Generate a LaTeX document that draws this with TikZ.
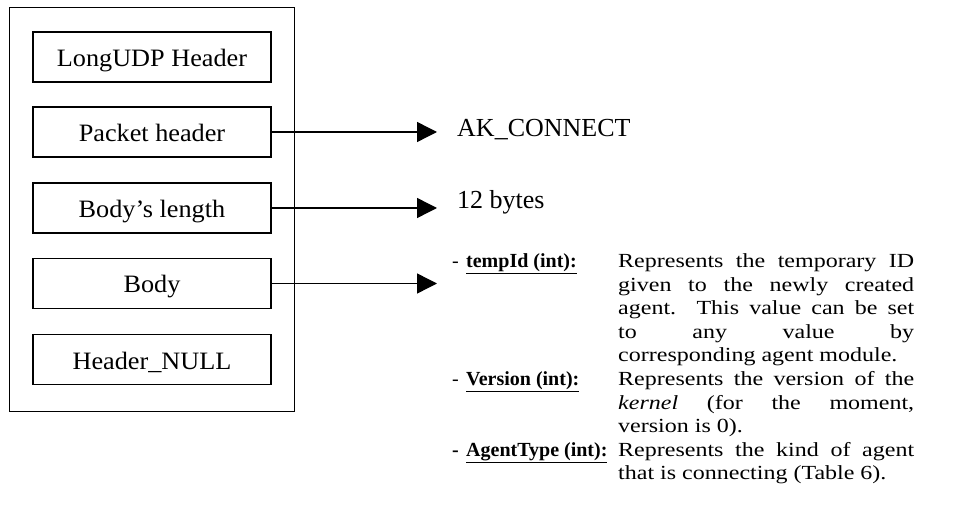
\documentclass[tikz,border=0pt]{standalone}
\usepackage{fontspec}
\setmainfont{Liberation Serif}
\newfontfamily\boxfont[FakeStretch=1.05]{Liberation Serif}
\newfontfamily\descfont[FakeStretch=1.2]{Liberation Serif}
\newfontfamily\labfont{Liberation Serif}
\usetikzlibrary{arrows.meta}
\begin{document}
\begin{tikzpicture}[x=1pt,y=-1pt,
  frame/.style={draw, line width=1.4pt, inner sep=0pt, anchor=north west},
  field/.style={draw, line width=1.4pt, minimum width=238pt, minimum height=50pt, inner sep=0pt, text height=19pt, text depth=0pt, font=\boxfont\fontsize{25}{28}\selectfont},
  link/.style={line width=1.4pt, -{Triangle[length=20pt,width=20pt]}},
  valtext/.style={anchor=base west, inner sep=0pt, font=\fontsize{26}{30}\selectfont},
  dashtext/.style={anchor=base west, inner sep=0pt, font=\labfont\fontsize{20}{23.5}\selectfont},
  desc/.style={anchor=base west, inner sep=0pt, text width=296pt, align=justify, font=\descfont\fontsize{20}{23.5}\selectfont}
]
\useasboundingbox (0,0) rectangle (974,529);
\node[frame, minimum width=285pt, minimum height=404pt] (outer) at (9,7) {};
\node[field] (f1) at (152,57) {LongUDP Header};
\node[field] (f2) at (152,132) {Packet header};
\node[field] (f3) at (152,208) {Body’s length};
\node[field] (f4) at (152,283.5) {Body};
\node[field] (f5) at (152,359.5) {Header\_NULL};
\coordinate (t2) at (437,132);
\coordinate (t3) at (437,208);
\coordinate (t4) at (437,283.5);
\draw[link] (f2.east) -- (t2);
\draw[link] (f3.east) -- (t3);
\draw[link] (f4.east) -- (t4);
\node[valtext] (ak) at (457,137) {AK\_CONNECT};
\node[valtext] (len) at (457,209) {12 bytes};
% tempId
\node[dashtext] (d1) at (452,268) {-};
\node[dashtext] (l1) at (466,268) {\underline{\textbf{tempId (int):}}};
\node[desc] (p1) at (618,268) {Represents the temporary ID\linebreak given to the newly created\linebreak agent. This value can be set\linebreak to any value by\linebreak corresponding agent module.};
% Version
\node[dashtext] (d2) at (452,385.5) {-};
\node[dashtext] (l2) at (466,385.5) {\underline{\textbf{Version (int):}}};
\node[desc] (p2) at (618,385.5) {Represents the version of the\linebreak \textit{kernel} (for the moment,\linebreak version is 0).};
% AgentType
\node[dashtext] (d3) at (452,456) {\textbf{-}};
\node[dashtext] (l3) at (466,456) {\underline{\textbf{AgentType (int):}}};
\node[desc] (p3) at (618,456) {Represents the kind of agent\linebreak that is connecting (Table 6).};
\end{tikzpicture}
\end{document}
